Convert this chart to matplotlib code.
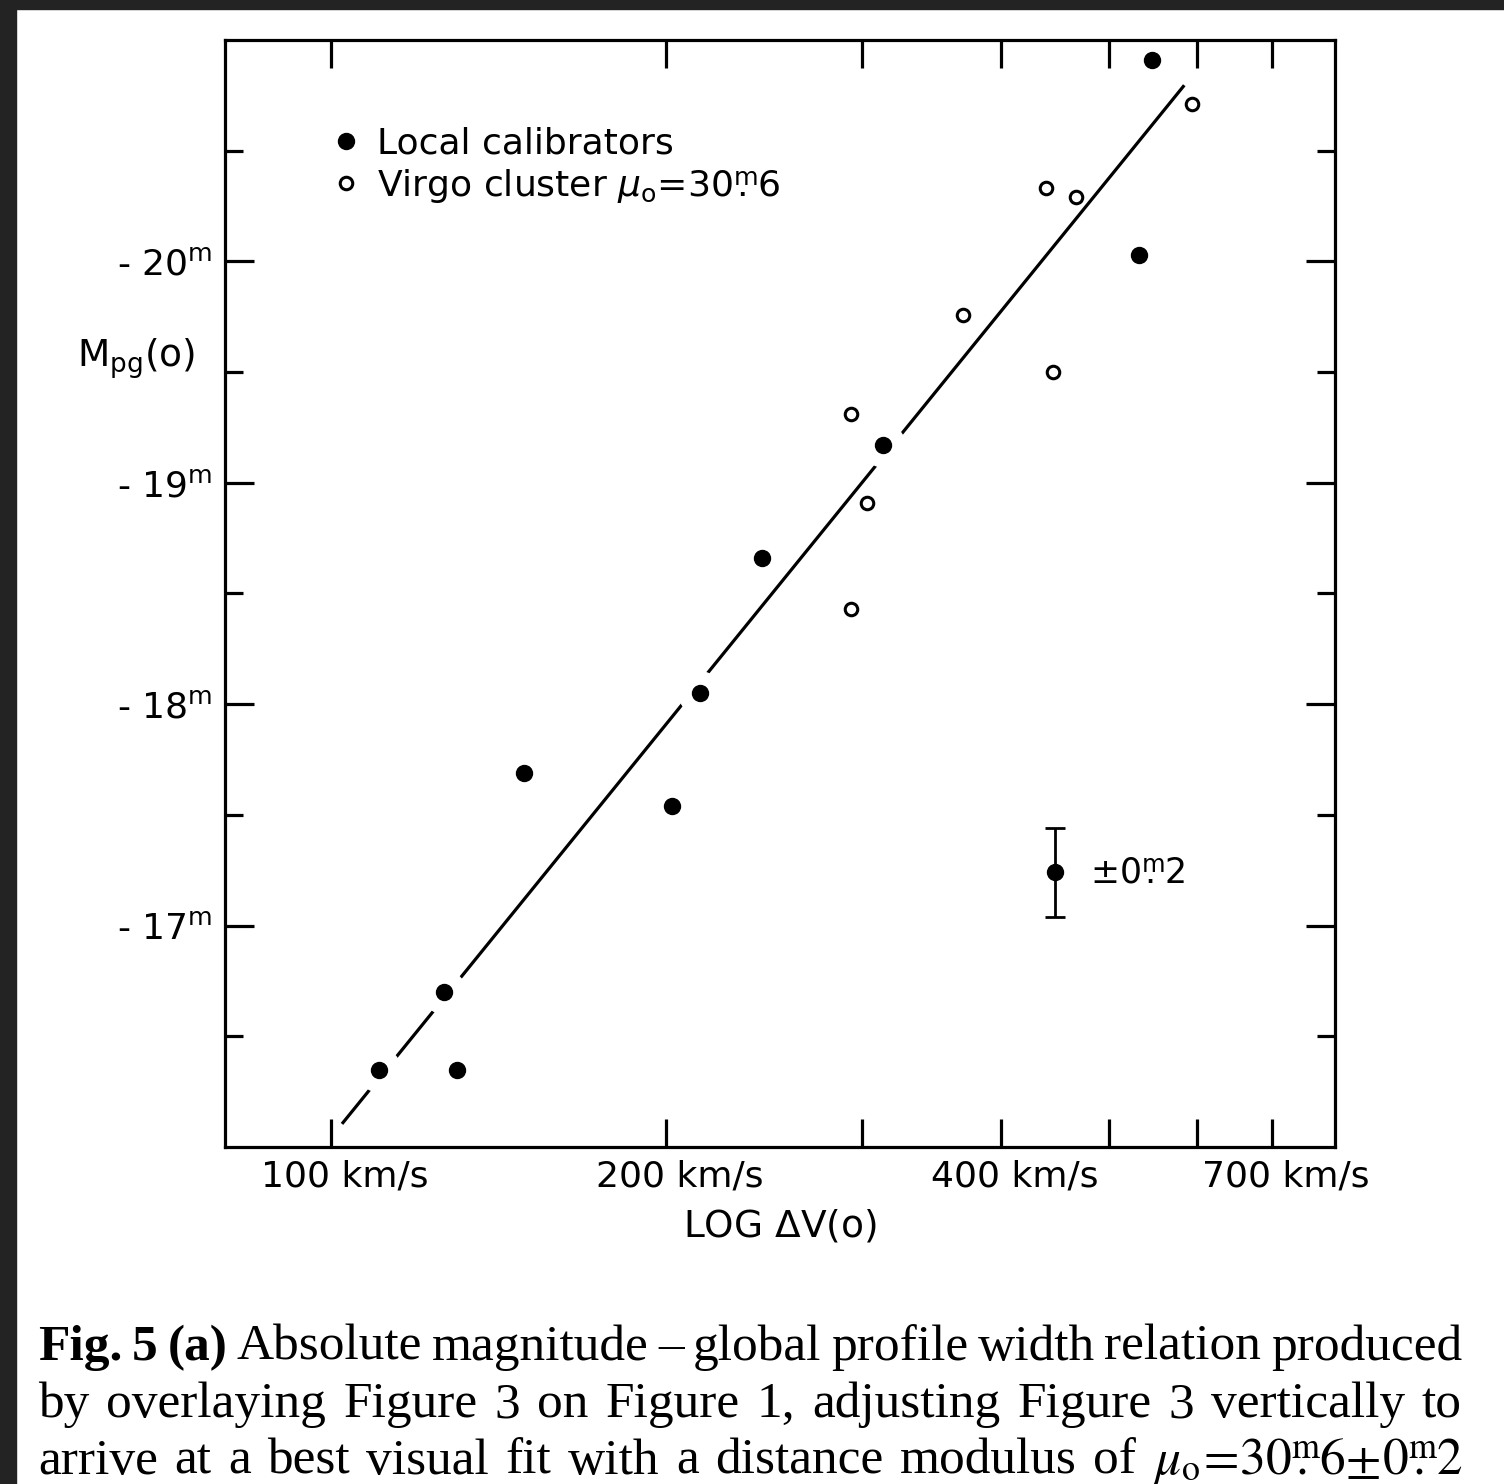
import matplotlib
matplotlib.use('Agg')
import matplotlib.pyplot as plt
from matplotlib.patches import Rectangle
from matplotlib.transforms import ScaledTranslation
from matplotlib.ticker import NullFormatter

# velocity widths (km/s) and absolute magnitudes
local_v = [110.4, 126.3, 129.8, 149.1, 202.5, 214.6, 243.9, 313.3, 532.1, 546.6]
local_m = [-16.35, -16.70, -16.35, -17.69, -17.54, -18.05, -18.66, -19.17, -20.03, -20.91]

virgo_v = [293.2, 293.2, 303.1, 369.7, 438.9, 445.3, 467.0, 593.8]
virgo_m = [-19.31, -18.43, -18.91, -19.76, -20.33, -19.50, -20.29, -20.71]

# fitted line end points
fit_v = [102.5, 583.0]
fit_m = [-16.11, -20.79]

# typical error
err_v = [447.2]
err_m = [-17.24]
err_size = 0.2

xticks = [100, 200, 400, 700]
xtick_labels = ['100 km/s', '200 km/s', '400 km/s', '700 km/s']
xminor = [300, 500, 600]
yticks = [-20, -19, -18, -17]
ytick_labels = [r'- 20$^{\rm m}$', r'- 19$^{\rm m}$', r'- 18$^{\rm m}$', r'- 17$^{\rm m}$']
yminor = [-20.5, -19.5, -18.5, -17.5, -16.5]

caption = [
    [('Fig.', 'bold'), ('5', 'bold'), ('(a)', 'bold'), ('Absolute', 'normal'), ('magnitude', 'normal'),
     ('\u2013', 'normal'), ('global', 'normal'), ('profile', 'normal'), ('width', 'normal'),
     ('relation', 'normal'), ('produced', 'normal')],
    [(w, 'normal') for w in 'by overlaying Figure 3 on Figure 1, adjusting Figure 3 vertically to'.split()],
    [(w, 'normal') for w in 'arrive at a best visual fit with a distance modulus of'.split()]
    + [(r'$\mu_{\rm o}\!=\!30\overset{\rm m}{.}6\!\pm\!0\overset{\rm m}{.}2$', 'normal')],
]

W, H = 1504, 1484
fig = plt.figure(figsize=(W / 100, H / 100), dpi=100)
fig.patch.set_facecolor('white')
fig.patches.append(Rectangle((0, 1 - 9 / H), 1, 9 / H, transform=fig.transFigure, color='#232323'))
fig.patches.append(Rectangle((0, 0), 16 / W, 1, transform=fig.transFigure, color='#232323'))

ax = fig.add_axes([225 / W, 337 / H, 1110 / W, 1107 / H])
ax.set_xscale('log')
ax.set_xlim(80.3, 798)
ax.set_ylim(-16.0, -21.0)

# line, then white halos to break it near the calibrators, then points
ax.plot(fit_v, fit_m, color='black', lw=2.3, zorder=1)
ax.plot(local_v, local_m, 'o', color='white', ms=31, zorder=1.5)
ax.plot(local_v, local_m, 'o', color='black', ms=11.5, zorder=4)
ax.plot(virgo_v, virgo_m, 'o', mfc='white', mec='black', ms=9, mew=2.2, zorder=4)
ax.errorbar(err_v, err_m, yerr=err_size, fmt='o', color='black', ms=11.5, lw=2,
            capsize=7.5, capthick=2, zorder=4)
ax.text(481, -17.24, r'$\pm$0$\overset{\rm m}{.}$2', fontsize=25, va='center', ha='left')

# legend
h1, = ax.plot([], [], 'o', color='black', ms=11.5)
h2, = ax.plot([], [], 'o', mfc='white', mec='black', ms=9, mew=2.2)
leg = ax.legend([h1, h2], ['Local calibrators', r'Virgo cluster $\mu_{\rm o}$=30$\overset{\rm m}{.}$6'],
                loc='upper left', bbox_to_anchor=(0.088, 0.935), frameon=False, fontsize=26,
                handlelength=0.5, handletextpad=0.6, labelspacing=0.18, borderaxespad=0)

for s in ax.spines.values():
    s.set_linewidth(2.3)

ax.set_xticks(xticks)
ax.set_xticklabels(xtick_labels, fontsize=26)
ax.set_xticks(xminor, minor=True)
ax.xaxis.set_minor_formatter(NullFormatter())
ax.set_yticks(yticks)
ax.set_yticklabels(ytick_labels, fontsize=26)
ax.set_yticks(yminor, minor=True)
ax.tick_params(axis='both', which='both', direction='in', top=True, right=True, width=2.3)
ax.tick_params(axis='x', which='both', length=20, pad=9)
ax.tick_params(axis='y', which='major', length=21, pad=9)
ax.tick_params(axis='y', which='minor', length=13)
for lab in ax.get_xticklabels():
    lab.set_transform(lab.get_transform() + ScaledTranslation(0.14, 0, fig.dpi_scale_trans))

ax.set_xlabel(r'LOG $\Delta$V(o)', fontsize=27, labelpad=10)
ax.text(-0.080, 0.712, r'M$_{\rm pg}$(o)', transform=ax.transAxes, fontsize=27, ha='center', va='center')

# justified caption
fig.canvas.draw()
r = fig.canvas.get_renderer()
x0, x1 = 38, 1462
baselines = [1360, 1417, 1474]
for words, yb in zip(caption, baselines):
    texts = [fig.text(0, 1 - yb / H, w, fontsize=37, fontweight=wt, family=['Liberation Serif', 'DejaVu Serif'],
                      math_fontfamily='stix', va='baseline') for w, wt in words]
    widths = [t.get_window_extent(r).width for t in texts]
    gap = max((x1 - x0 - sum(widths)) / (len(words) - 1), 6)
    x = x0
    for t, w in zip(texts, widths):
        t.set_x(x / W)
        x += w + gap

fig.savefig('out.png', dpi=100)
